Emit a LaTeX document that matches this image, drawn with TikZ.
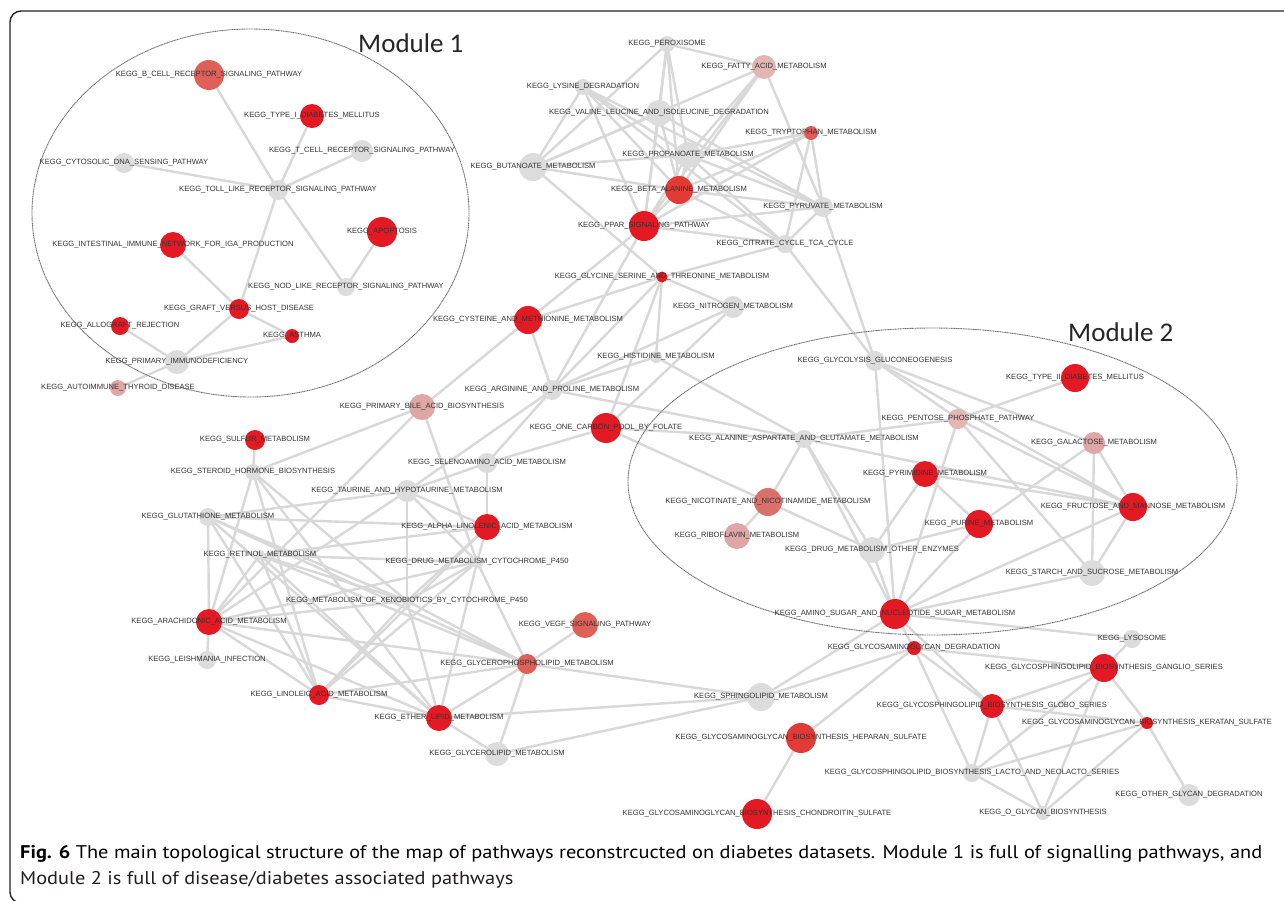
\documentclass[tikz,border=0pt]{standalone}
\usepackage{graphicx}
\usepackage{fontspec}
\setmainfont{Liberation Sans}
\newfontfamily\capfont{PT Sans}
\newfontfamily\modfont{Carlito}
\definecolor{cRed}{HTML}{E31A24}
\definecolor{cRedB}{HTML}{E43A36}
\definecolor{cSal}{HTML}{DE6058}
\definecolor{cNic}{HTML}{D9706A}
\definecolor{cTrp}{HTML}{E05A5A}
\definecolor{cPink}{HTML}{DFA6A6}
\definecolor{cPinkL}{HTML}{E2B6B4}
\definecolor{cGray}{HTML}{DCDCDC}
\definecolor{cEdge}{HTML}{D8D8D8}
\definecolor{cTxt}{HTML}{333333}
\definecolor{cCap}{HTML}{231F20}
\pgfdeclarelayer{edgelayer}
\pgfdeclarelayer{labellayer}
\pgfsetlayers{edgelayer,main,labellayer}
\tikzset{
  pwnode/.style={circle, inner sep=0pt, draw=none},
  pwlabel/.style={inner sep=0pt, text=cTxt, font=\fontsize{7.6}{8}\selectfont},
  lnk/.style={draw=cEdge, line width=2.4pt},
  modring/.style={draw=black!55, line width=0.9pt, dash pattern=on 1.2pt off 0.5pt},
  outerframe/.style={draw=black!85, line width=1.4pt},
  modlbl/.style={anchor=base west, inner sep=0pt, text=black!85, font=\modfont\fontsize{27}{30}\selectfont},
  caplbl/.style={anchor=base west, inner sep=0pt, text=cCap},
}
\newcommand\pw[6]{%
  \node[pwnode, fill=#5, minimum size=#4pt] (#1) at (#2,#3) {};
  \begin{pgfonlayer}{labellayer}
  \node[pwlabel] (#1L) at (#2,#3) {KEGG\_\detokenize{#6}};
  \end{pgfonlayer}}
\newsavebox\capboxA
\sbox\capboxA{\capfont\fontsize{17}{20}\selectfont\textbf{Fig. 6} The main topological structure of the map of pathways reconstrcucted on diabetes datasets. Module 1 is full of signalling pathways, and}
\begin{document}
\begin{tikzpicture}[x=1pt, y=-1pt]
\useasboundingbox (0,0) rectangle (1284,900);
\begin{pgfonlayer}{edgelayer}
\fill[white] (0,0) rectangle (1284,900);
\end{pgfonlayer}
% module rings
\draw[modring] (250.5,213) ellipse [x radius=218.5, y radius=184];
\draw[modring] (932.5,481.5) ellipse [x radius=304.5, y radius=153.5];
\node[modlbl] (mod1) at (358,52) {Module 1};
\node[modlbl] (mod2) at (1068,341) {Module 2};
% outer frame
\draw[outerframe, rounded corners=11pt] (1320,11) -- (10,11) -- (10,903) -- (40,903);
% ---- Module 1
\pw{bcell}{209}{75}{30}{cSal}{B_CELL_RECEPTOR_SIGNALING_PATHWAY}
\pw{tid}{312}{116}{24}{cRed}{TYPE_I_DIABETES_MELLITUS}
\pw{tcell}{362}{151}{22}{cGray}{T_CELL_RECEPTOR_SIGNALING_PATHWAY}
\pw{cyto}{124}{163}{20}{cGray}{CYTOSOLIC_DNA_SENSING_PATHWAY}
\pw{toll}{278}{190}{20}{cGray}{TOLL_LIKE_RECEPTOR_SIGNALING_PATHWAY}
\pw{apop}{382}{232}{30}{cRed}{APOPTOSIS}
\pw{iga}{173}{245}{26}{cRed}{INTESTINAL_IMMUNE_NETWORK_FOR_IGA_PRODUCTION}
\pw{nod}{346}{287}{18}{cGray}{NOD_LIKE_RECEPTOR_SIGNALING_PATHWAY}
\pw{gvhd}{239}{309}{20}{cRed}{GRAFT_VERSUS_HOST_DISEASE}
\pw{allo}{120}{326}{18}{cRed}{ALLOGRAFT_REJECTION}
\pw{asthma}{292}{336}{14}{cRed}{ASTHMA}
\pw{pid}{177}{362}{24}{cGray}{PRIMARY_IMMUNODEFICIENCY}
\pw{aitd}{118}{388}{16}{cPink}{AUTOIMMUNE_THYROID_DISEASE}
% ---- top cluster
\pw{perox}{667}{44}{16}{cGray}{PEROXISOME}
\pw{fatty}{764}{67}{24}{cPinkL}{FATTY_ACID_METABOLISM}
\pw{lysine}{583}{87}{16}{cGray}{LYSINE_DEGRADATION}
\pw{valine}{659}{113}{26}{cGray}{VALINE_LEUCINE_AND_ISOLEUCINE_DEGRADATION}
\pw{trp}{811}{133}{14}{cTrp}{TRYPTOPHAN_METABOLISM}
\pw{propan}{688}{155}{26}{cGray}{PROPANOATE_METABOLISM}
\pw{butan}{533}{167}{28}{cGray}{BUTANOATE_METABOLISM}
\pw{beta}{679}{190}{28}{cRedB}{BETA_ALANINE_METABOLISM}
\pw{pyruv}{823}{207}{20}{cGray}{PYRUVATE_METABOLISM}
\pw{ppar}{644}{226}{30}{cRed}{PPAR_SIGNALING_PATHWAY}
\pw{citrate}{785}{244}{18}{cGray}{CITRATE_CYCLE_TCA_CYCLE}
\pw{glycine}{662}{277}{11}{cRed}{GLYCINE_SERINE_AND_THREONINE_METABOLISM}
\pw{nitrogen}{733}{307}{22}{cGray}{NITROGEN_METABOLISM}
% ---- middle / left cluster
\pw{cyst}{528}{320}{28}{cRed}{CYSTEINE_AND_METHIONINE_METABOLISM}
\pw{hist}{656}{357}{12}{cGray}{HISTIDINE_METABOLISM}
\pw{argin}{552}{390}{20}{cGray}{ARGININE_AND_PROLINE_METABOLISM}
\pw{bile}{422}{407}{26}{cPink}{PRIMARY_BILE_ACID_BIOSYNTHESIS}
\pw{onec}{606}{428}{30}{cRed}{ONE_CARBON_POOL_BY_FOLATE}
\pw{seleno}{487}{463}{20}{cGray}{SELENOAMINO_ACID_METABOLISM}
\pw{alpha}{487}{527}{26}{cRed}{ALPHA_LINOLENIC_ACID_METABOLISM}
\pw{drugcyp}{477}{562}{12}{cGray}{DRUG_METABOLISM_CYTOCHROME_P450}
\pw{sulfur}{255}{440}{20}{cRed}{SULFUR_METABOLISM}
\pw{steroid}{253}{472}{16}{cGray}{STEROID_HORMONE_BIOSYNTHESIS}
\pw{taurine}{407}{491}{22}{cGray}{TAURINE_AND_HYPOTAURINE_METABOLISM}
\pw{glut}{208}{517}{18}{cGray}{GLUTATHIONE_METABOLISM}
\pw{retinol}{260}{555}{10}{cGray}{RETINOL_METABOLISM}
\pw{xeno}{407}{601}{10}{cGray}{METABOLISM_OF_XENOBIOTICS_BY_CYTOCHROME_P450}
\pw{arach}{209}{622}{26}{cRed}{ARACHIDONIC_ACID_METABOLISM}
\pw{leish}{207}{660}{18}{cGray}{LEISHMANIA_INFECTION}
\pw{linol}{319}{695}{20}{cRed}{LINOLEIC_ACID_METABOLISM}
\pw{ether}{439}{718}{26}{cRed}{ETHER_LIPID_METABOLISM}
\pw{vegf}{585}{625}{26}{cSal}{VEGF_SIGNALING_PATHWAY}
\pw{gpl}{527}{664}{20}{cSal}{GLYCEROPHOSPHOLIPID_METABOLISM}
\pw{sphingo}{761}{697}{28}{cGray}{SPHINGOLIPID_METABOLISM}
\pw{glycerol}{497}{754}{24}{cGray}{GLYCEROLIPID_METABOLISM}
\pw{heparan}{801}{738}{30}{cRedB}{GLYCOSAMINOGLYCAN_BIOSYNTHESIS_HEPARAN_SULFATE}
\pw{chond}{757}{814}{30}{cRed}{GLYCOSAMINOGLYCAN_BIOSYNTHESIS_CHONDROITIN_SULFATE}
% ---- Module 2
\pw{glycol}{875}{361}{20}{cGray}{GLYCOLYSIS_GLUCONEOGENESIS}
\pw{tiid}{1075}{378}{28}{cRed}{TYPE_II_DIABETES_MELLITUS}
\pw{pentose}{958}{419}{20}{cPinkL}{PENTOSE_PHOSPHATE_PATHWAY}
\pw{alanine}{804}{439}{18}{cGray}{ALANINE_ASPARTATE_AND_GLUTAMATE_METABOLISM}
\pw{galact}{1094}{443}{22}{cPink}{GALACTOSE_METABOLISM}
\pw{pyrim}{925}{474}{26}{cRed}{PYRIMIDINE_METABOLISM}
\pw{nicot}{768}{502}{28}{cNic}{NICOTINATE_AND_NICOTINAMIDE_METABOLISM}
\pw{fruct}{1133}{507}{28}{cRed}{FRUCTOSE_AND_MANNOSE_METABOLISM}
\pw{purine}{979}{524}{28}{cRed}{PURINE_METABOLISM}
\pw{ribo}{737}{536}{26}{cPink}{RIBOFLAVIN_METABOLISM}
\pw{drugoth}{872}{550}{26}{cGray}{DRUG_METABOLISM_OTHER_ENZYMES}
\pw{starch}{1092}{573}{26}{cGray}{STARCH_AND_SUCROSE_METABOLISM}
\pw{amino}{895}{614}{30}{cRed}{AMINO_SUGAR_AND_NUCLEOTIDE_SUGAR_METABOLISM}
% ---- bottom right
\pw{lysosome}{1132}{639}{18}{cGray}{LYSOSOME}
\pw{gagdeg}{914}{648}{14}{cRed}{GLYCOSAMINOGLYCAN_DEGRADATION}
\pw{ganglio}{1104}{668}{28}{cRed}{GLYCOSPHINGOLIPID_BIOSYNTHESIS_GANGLIO_SERIES}
\pw{globo}{992}{706}{24}{cRed}{GLYCOSPHINGOLIPID_BIOSYNTHESIS_GLOBO_SERIES}
\pw{keratan}{1147}{723}{12}{cRed}{GLYCOSAMINOGLYCAN_BIOSYNTHESIS_KERATAN_SULFATE}
\pw{lacto}{972}{773}{18}{cGray}{GLYCOSPHINGOLIPID_BIOSYNTHESIS_LACTO_AND_NEOLACTO_SERIES}
\pw{otherg}{1189}{795}{22}{cGray}{OTHER_GLYCAN_DEGRADATION}
\pw{oglycan}{1043}{813}{14}{cGray}{O_GLYCAN_BIOSYNTHESIS}
% ---- edges
\begin{pgfonlayer}{edgelayer}
\foreach \a/\b in {bcell/toll, tid/toll, tcell/toll, cyto/toll, toll/gvhd, toll/nod, apop/nod,
  iga/gvhd, gvhd/asthma, gvhd/pid, allo/pid, asthma/pid, pid/aitd,
  perox/fatty, perox/butan, perox/valine, perox/propan, perox/beta, perox/ppar,
  fatty/butan, fatty/propan, fatty/beta, fatty/ppar, fatty/pyruv,
  lysine/butan, lysine/propan, lysine/beta, lysine/ppar, lysine/pyruv, lysine/citrate,
  valine/butan, valine/ppar, valine/pyruv, valine/beta,
  butan/propan, butan/beta, butan/glycine,
  propan/beta, propan/ppar, propan/pyruv, propan/citrate, propan/trp,
  beta/ppar, beta/pyruv, beta/trp, beta/citrate,
  ppar/pyruv, ppar/citrate, ppar/cyst, ppar/argin, ppar/trp,
  trp/citrate, trp/pyruv,
  pyruv/citrate, pyruv/glycol, citrate/glycol, citrate/glycine,
  glycine/cyst, glycine/argin, glycine/hist, glycine/onec, glycine/nitrogen,
  nitrogen/argin, nitrogen/onec,
  hist/argin, hist/alanine,
  argin/cyst, argin/alanine, argin/seleno, argin/taurine,
  onec/seleno, onec/alanine, onec/nicot,
  cyst/bile,
  bile/steroid, bile/drugcyp, bile/arach,
  seleno/alpha, seleno/taurine,
  taurine/glut, taurine/xeno, taurine/arach, taurine/alpha, taurine/drugcyp,
  glut/arach, glut/alpha, glut/xeno, glut/linol, glut/ether, glut/gpl,
  steroid/sulfur, steroid/arach, steroid/linol, steroid/xeno, steroid/ether,
  retinol/drugcyp, retinol/alpha, retinol/arach, retinol/linol, retinol/ether, retinol/xeno, retinol/gpl,
  arach/leish, arach/xeno, arach/drugcyp, arach/linol, arach/ether, arach/gpl,
  xeno/drugcyp, xeno/alpha, xeno/linol, xeno/ether, xeno/gpl,
  drugcyp/alpha, drugcyp/linol, drugcyp/ether, drugcyp/gpl,
  linol/gpl, linol/ether, linol/alpha,
  ether/gpl, ether/glycerol, ether/sphingo,
  gpl/vegf, gpl/glycerol, gpl/sphingo,
  glycerol/sphingo, sphingo/gagdeg, sphingo/amino,
  glycol/pentose, glycol/galact, glycol/fruct, glycol/amino,
  tiid/pentose,
  pentose/alanine, pentose/amino, pentose/starch, pentose/fruct,
  alanine/nicot, alanine/drugoth, alanine/amino, alanine/fruct,
  pyrim/purine, pyrim/drugoth, pyrim/fruct,
  purine/drugoth, purine/amino, purine/galact,
  galact/starch, galact/fruct,
  fruct/starch, fruct/amino, starch/amino,
  nicot/ribo, nicot/drugoth, drugoth/amino,
  amino/lysosome, amino/gagdeg, amino/globo,
  gagdeg/ganglio, gagdeg/globo, gagdeg/lacto, gagdeg/heparan,
  lysosome/ganglio,
  ganglio/globo, ganglio/lacto, ganglio/oglycan, ganglio/keratan,
  globo/keratan, globo/lacto, globo/oglycan,
  keratan/lacto, keratan/oglycan, keratan/otherg,
  lacto/oglycan, heparan/chond}
  \draw[lnk] (\a.center) -- (\b.center);
\end{pgfonlayer}
% ---- caption
\pgfmathsetmacro\capsx{1242/\the\wd\capboxA}
\node[caplbl] (cap1) at (20,858) {\scalebox{\capsx}[1.08]{\usebox\capboxA}};
\node[caplbl] (cap2) at (20,884) {\scalebox{\capsx}[1.08]{\capfont\fontsize{17}{20}\selectfont Module 2 is full of disease/diabetes associated pathways}};
\end{tikzpicture}
\end{document}
